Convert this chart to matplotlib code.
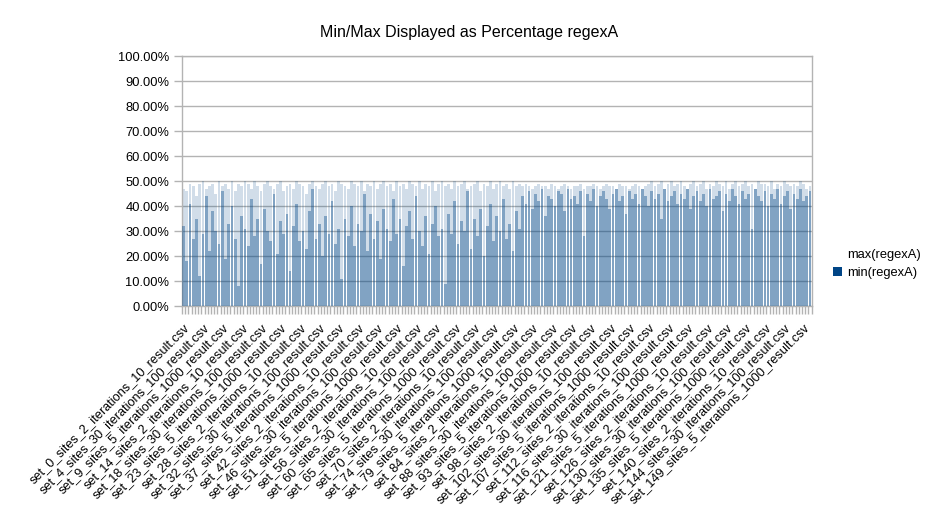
import matplotlib

matplotlib.use("Agg")
import matplotlib.pyplot as plt
from matplotlib.patches import Patch
from matplotlib.ticker import FuncFormatter

plt.rcParams["font.family"] = ["Liberation Sans", "DejaVu Sans"]

TITLE = "Min/Max Displayed as Percentage regexA"

# --- data (percent) ---
min_vals = [
    32, 18, 41, 27, 35, 12, 29, 44, 22, 38, 30, 25, 46, 19, 33, 40, 27, 8, 36, 31,
    24, 43, 28, 35, 17, 39, 30, 26, 45, 21, 34, 29, 37, 14, 32, 41, 26, 30, 23, 38,
    47, 27, 33, 20, 36, 29, 42, 25, 31, 11, 35, 28, 40, 24, 33, 30, 45, 22, 37, 27,
    34, 19, 39, 31, 26, 43, 29, 35, 16, 32, 38, 27, 44, 30, 24, 36, 21, 33, 40, 28,
    31, 9, 37, 29, 42, 25, 34, 30, 46, 23, 35, 28, 39, 20, 32, 41, 26, 36, 30, 43,
    27, 33, 22, 38, 31,
    44, 41, 46, 39, 45, 42, 47, 36, 44, 43, 40, 46, 45, 38, 47, 43, 44, 41, 46, 28,
    45, 42, 47, 40, 44, 46, 43, 39, 45, 47, 42, 44, 37, 46, 43, 45, 41, 47, 44, 40,
    46, 43, 45, 35, 47, 42, 44, 46, 41, 45, 43, 47, 39, 44, 46, 42, 45, 40, 47, 43,
    44, 46, 38, 45, 42, 47, 44, 41, 46, 43, 45, 31, 47, 44, 42, 46, 40, 45, 43, 47,
    41, 44, 46, 39, 45, 43, 47, 42, 44, 46,
]
max_vals = [
    47, 46, 49, 48, 44, 49, 50, 47, 48, 49, 45, 50, 48, 49, 47, 50, 46, 49, 48, 50,
    49, 47, 50, 48, 46, 49, 50, 48, 47, 49, 50, 46, 48, 49, 47, 50, 49, 48, 45, 49,
    50, 48, 47, 49, 50, 48, 49, 46, 50, 49, 48, 47, 50, 49, 48, 50, 46, 49, 48, 50,
    47, 49, 50, 48, 49, 46, 50, 48, 49, 47, 50, 49, 48, 50, 47, 49, 48, 50, 46, 49,
    50, 48, 49, 47, 50, 48, 49, 50, 47, 48, 49, 50, 46, 49, 48, 50, 47, 49, 50, 48,
    49, 47, 50, 48, 49, 48, 49, 48, 47, 48, 49, 48, 48, 47, 49, 48, 47, 48, 49, 48,
    47, 48, 48, 49, 47, 48, 48, 49, 48, 47, 48, 49, 48, 48, 47, 49, 48, 48, 47, 48,
    49, 48, 47, 48, 49, 50, 48, 49, 50, 47, 49, 50, 48, 49, 50, 48, 47, 49, 50, 48,
    49, 50, 47, 49, 48, 50, 49, 48, 50, 47, 49, 50, 48, 49, 50, 48, 49, 47, 50, 49,
    49, 48, 50, 47, 49, 48, 50, 49, 48, 49, 48, 50, 49, 47, 48,
]

# labelled categories (only every 6th category gets a label)
label_sets = [0, 4, 9, 14, 18, 23, 28, 32, 37, 42, 46, 51, 56, 60, 65, 70, 74,
              79, 84, 88, 93, 98, 102, 107, 112, 116, 121, 126, 130, 135, 140,
              144, 149]
sites_cycle = [2, 30, 5]
iters_cycle = [10, 100, 1000]
LABEL_STEP = 6

tick_labels = [
    f"set_{s}_sites_{sites_cycle[i % 3]}_iterations_{iters_cycle[i % 3]}_result.csv"
    for i, s in enumerate(label_sets)
]
x = list(range(len(min_vals)))

BLUE = "#004586"
GRID = "#b3b3b3"

fig = plt.figure(figsize=(9.33, 5.25), dpi=100)
ax = fig.add_axes([0.195, 0.417, 0.675, 0.476])

ax.bar(x, max_vals, width=0.85, color=BLUE, alpha=0.18, lw=0, zorder=2)
ax.bar(x, min_vals, width=0.85, color=BLUE, alpha=0.38, lw=0, zorder=3)

ax.set_xlim(-0.5, len(x) - 0.5)
ax.set_ylim(0, 100)
ax.set_yticks(range(0, 101, 10))
ax.yaxis.set_major_formatter(FuncFormatter(lambda v, _: f"{v:.2f}%"))
ax.grid(axis="y", color=GRID, lw=1, zorder=1)
ax.set_axisbelow(True)

ax.set_xticks([i * LABEL_STEP for i in range(len(tick_labels))])
ax.set_xticklabels(tick_labels, rotation=45, ha="right", rotation_mode="anchor",
                   fontsize=9.2)
ax.set_xticks([i - 0.5 for i in range(len(x) + 1)], minor=True)
ax.tick_params(axis="x", which="major", length=0, pad=11)
ax.tick_params(axis="x", which="minor", length=6, width=1, color=GRID)
ax.tick_params(axis="y", length=6, width=1, color=GRID, labelsize=9.3, pad=3)

for sp in ax.spines.values():
    sp.set_color(GRID)
    sp.set_linewidth(1)

fig.text(0.503, 0.939, TITLE, ha="center", va="center", fontsize=11.5)

handles = [Patch(facecolor="white", edgecolor="none", label="max(regexA)"),
           Patch(facecolor=BLUE, edgecolor="none", label="min(regexA)")]
fig.legend(handles=handles, loc="center left", bbox_to_anchor=(0.88, 0.497),
           frameon=False, fontsize=9.3, handlelength=0.7, handleheight=0.7,
           handletextpad=0.4, labelspacing=0.45)

fig.savefig("out.png", dpi=100)
